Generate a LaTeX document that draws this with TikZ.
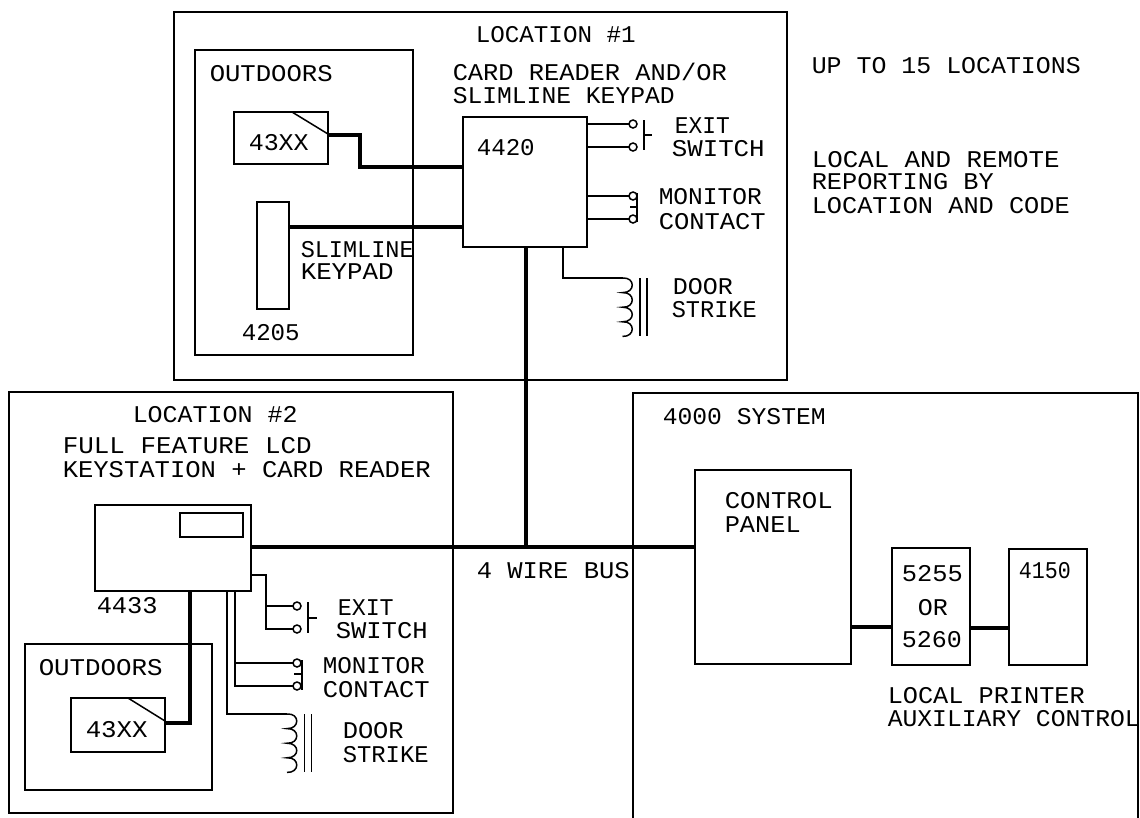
\documentclass[tikz,border=0pt]{standalone}
\usepackage{fontspec}
\setmainfont{Liberation Mono}
\tikzset{
  x=1pt,y=-1pt,
  every path/.style={line width=1.5pt,black,line join=miter},
  bx/.style={draw,rectangle,inner sep=0pt,outer sep=0pt},
  bus/.style={line width=4pt},
  wire/.style={line width=1.6pt},
  lab/.style={anchor=base west,inner sep=0pt,font=\fontsize{24}{24}\selectfont},
  term/.style={draw,circle,minimum size=8pt,inner sep=0pt,outer sep=0pt},
  coilpic/.pic={\draw[line width=1.5pt] (0,0)
     .. controls (13,-1) and (13,15) .. (0,14.6)
     .. controls (13,14) and (13,30) .. (0,29.2)
     .. controls (13,29) and (13,44) .. (0,43.8)
     .. controls (13,43) and (13,59) .. (0,58.4);
     \draw (17.5,0) -- (17.5,58.4) (24.5,0) -- (24.5,58.4);}
}
% name, left, right, baseline, text
\newcommand\T[5]{\pgfmathsetmacro\wdt{#3-#2+2}\node[lab] (#1) at (#2-1,#4) {\resizebox{\wdt pt}{\height}{#5}};}
% name, left, top, right, bottom
\newcommand\B[5]{\pgfmathsetmacro\bw{#4-#2}\pgfmathsetmacro\bh{#5-#3}\node[bx,minimum width=\bw pt,minimum height=\bh pt] (#1) at ({(#2+#4)/2},{(#3+#5)/2}) {};}
\begin{document}
\begin{tikzpicture}
\useasboundingbox (0,0) rectangle (1140,817);
% ---------- boxes
\B{loc1}{174}{12}{787}{380}
\B{out1}{195}{50}{413}{355}
\B{rd1}{234}{112}{328}{164}
\B{c4420}{463}{117}{587}{247}
\B{kp}{257}{202}{289}{309}
\B{loc2}{9}{392}{453}{813}
\B{c4433}{95}{505}{251}{591}
\B{disp}{180}{513}{243}{537}
\B{out2}{25}{644}{212}{790}
\B{rd2}{71}{698}{165}{752}
\B{sys}{633}{393}{1138}{825}
\B{panel}{695}{470}{851}{664}
\B{dial}{892}{548}{970}{665}
\B{aux}{1009}{549}{1087}{665}
% ---------- card reader corner marks
\coordinate (d1) at (292,112);
\coordinate (d2) at (128,698);
\draw (d1) -- (rd1.east |- 0,134);
\draw (d2) -- (rd2.east |- 0,721);
% ---------- terminals
\node[term] (e1a) at (633,124) {};
\node[term] (e1b) at (633,147) {};
\node[term] (m1a) at (633,196) {};
\node[term] (m1b) at (633,219) {};
\node[term] (e2a) at (297,606) {};
\node[term] (e2b) at (297,629) {};
\node[term] (m2a) at (297,663) {};
\node[term] (m2b) at (297,686) {};
% ---------- bus junction
\coordinate (j) at (526,547);
% ---------- thick wiring
\draw[bus] (rd1.east |- 0,135) -- (360,135) -- (360,167) -- (c4420.west |- 0,167);
\draw[bus] (kp.east |- 0,227) -- (c4420.west |- 0,227);
\draw[bus] (c4420.south -| j) -- (j);
\draw[bus] (c4433.east |- j) -- (panel.west |- j);
\draw[bus] (c4433.south -| 190,0) -- (190,723) -- (rd2.east |- 0,723);
\draw[bus] (panel.east |- 0,627) -- (dial.west |- 0,627);
\draw[bus] (dial.east |- 0,628) -- (aux.west |- 0,628);
% ---------- location 1 devices
\draw[wire] (c4420.east |- e1a) -- (e1a);
\draw[wire] (c4420.east |- e1b) -- (e1b);
\draw (644,120) -- (644,150) (644,135) -- (652,135);
\draw[wire] (c4420.east |- m1a) -- (m1a);
\draw[wire] (c4420.east |- m1b) -- (m1b);
\draw (637,193) -- (637,222) (630,207) -- (637,207);
\coordinate (coil1) at (622.5,278);
\draw[wire] (c4420.south -| 563,0) -- (563,278) -- (coil1);
\pic at (coil1) {coilpic};
% ---------- location 2 devices
\draw[wire] (c4433.east |- 0,575) -- (266,575) -- (266,629) -- (e2b);
\draw[wire] (266,606) -- (e2a);
\draw (308,602) -- (308,633) (308,618) -- (317,618);
\draw[wire] (c4433.south -| 235,0) -- (235,686) -- (m2b);
\draw[wire] (235,663) -- (m2a);
\draw (302,660) -- (302,690) (294,674) -- (302,674);
\coordinate (coil2) at (287,714);
\draw[wire] (c4433.south -| 227,0) -- (227,714) -- (coil2);
\pic at (coil2) {coilpic};
% ---------- text
\T{t1}{476}{634}{42}{LOCATION \#1}
\T{t2}{210}{331}{81}{OUTDOORS}
\T{t3}{453}{725}{80}{CARD READER AND/OR}
\T{t4}{453}{673}{103}{SLIMLINE KEYPAD}
\T{t5}{249}{307}{150}{43XX}
\T{t6}{477}{533}{155}{4420}
\T{t7}{301}{412}{257}{SLIMLINE}
\T{t8}{301}{392}{279}{KEYPAD}
\T{t9}{242}{298}{340}{4205}
\T{t10}{675}{728}{133}{EXIT}
\T{t11}{672}{763}{156}{SWITCH}
\T{t12}{659}{760}{204}{MONITOR}
\T{t13}{659}{764}{229}{CONTACT}
\T{t14}{673}{731}{294}{DOOR}
\T{t15}{672}{755}{317}{STRIKE}
\T{t16}{812}{1079}{73}{UP TO 15 LOCATIONS}
\T{t17}{812}{1058}{167}{LOCAL AND REMOTE}
\T{t18}{812}{992}{189}{REPORTING BY}
\T{t19}{812}{1068}{213}{LOCATION AND CODE}
\T{t20}{133}{296}{422}{LOCATION \#2}
\T{t21}{63}{310}{453}{FULL FEATURE LCD}
\T{t22}{63}{429}{477}{KEYSTATION + CARD READER}
\T{t23}{97}{156}{613}{4433}
\T{t24}{39}{161}{675}{OUTDOORS}
\T{t25}{86}{146}{737}{43XX}
\T{t26}{338}{392}{615}{EXIT}
\T{t27}{336}{426}{638}{SWITCH}
\T{t28}{323}{423}{673}{MONITOR}
\T{t29}{323}{428}{697}{CONTACT}
\T{t30}{343}{402}{738}{DOOR}
\T{t31}{343}{427}{762}{STRIKE}
\T{t32}{477}{628}{578}{4 WIRE BUS}
\T{t33}{663}{824}{424}{4000 SYSTEM}
\T{t34}{725}{831}{508}{CONTROL}
\T{t35}{725}{799}{532}{PANEL}
\T{t36}{902}{961}{581}{5255}
\T{t37}{918}{946}{615}{OR}
\T{t38}{902}{960}{647}{5260}
\T{t39}{1019}{1069}{578}{4150}
\T{t40}{888}{1083}{703}{LOCAL PRINTER}
\T{t41}{888}{1138}{726}{AUXILIARY CONTROL}
\end{tikzpicture}
\end{document}
